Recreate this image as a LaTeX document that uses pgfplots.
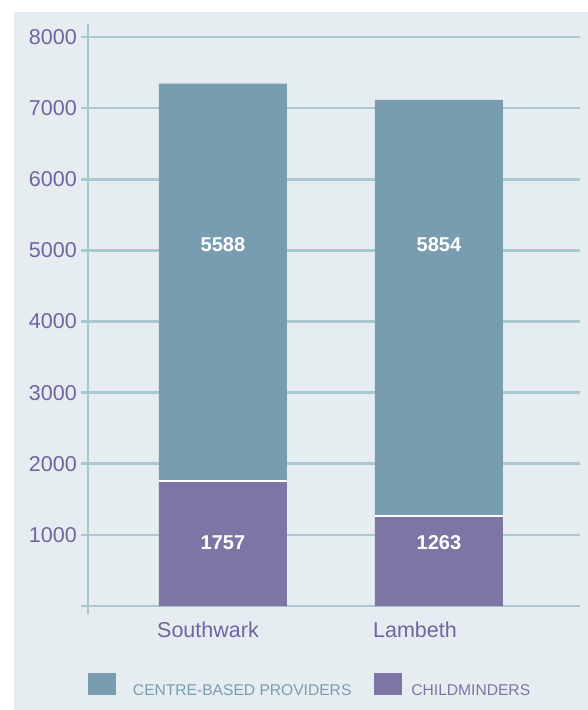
\documentclass[border=0pt]{standalone}
\usepackage{fontspec}
\setmainfont{Liberation Sans}
\usepackage{pgfplots}
\usepackage{pgfplotstable}
\pgfplotsset{compat=1.18}
\definecolor{bgc}{HTML}{E5EDF1}
\definecolor{gridc}{HTML}{A9C8D0}
\definecolor{cblue}{HTML}{799DB0}
\definecolor{cpurp}{HTML}{7D76A5}
\definecolor{tpurp}{HTML}{7064A2}

\pgfplotstableread{
x childminders centre
0 1757 5588
1 1263 5854
}\barsdata

\pgfplotstableread{
x y label
0 5080 5588
1 5080 5854
0 886 1757
1 886 1263
}\labeldata

\begin{document}
\begin{tikzpicture}[x=1pt,y=1pt]
\fill[white] (0,0) rectangle (588,-710);
\fill[bgc] (14,-12) rectangle (588,-710);
\begin{axis}[
  at={(88pt,-606pt)}, anchor=south west,
  scale only axis, width=492pt, height=569pt,
  xmin=-0.625, xmax=1.653, ymin=0, ymax=8000,
  ybar stacked, bar width=128pt,
  axis lines*=left,
  separate axis lines,
  axis line style={-, draw=gridc, line width=2.6pt},
  x axis line style={draw=none},
  y axis line style={shorten <=-8pt, shorten >=-13pt},
  xtick={0,1}, xticklabels={Southwark,Lambeth},
  xtick style={draw=none},
  ytick={0,1000,...,8000},
  yticklabels={,1000,2000,3000,4000,5000,6000,7000,8000},
  ytick style={draw=gridc, line width=2.6pt},
  tick align=outside, major tick length=7pt,
  ymajorgrids, major grid style={draw=gridc, line width=2.6pt},
  /pgf/number format/assume math mode=true,
  yticklabel style={anchor=east, inner xsep=4pt, font=\fontsize{21.5}{24}\selectfont, text=tpurp},
  xticklabel style={anchor=base west, inner xsep=0pt, xshift=-66pt, yshift=-24pt, font=\fontsize{21.5}{24}\selectfont, text=tpurp},
  clip=false,
]
\addplot[fill=cpurp, draw=none] table[x=x, y=childminders] {\barsdata};
\addplot[fill=cblue, draw=none] table[x=x, y=centre] {\barsdata};
\end{axis}
\begin{axis}[
  at={(88pt,-606pt)}, anchor=south west,
  scale only axis, width=492pt, height=569pt,
  xmin=-0.625, xmax=1.653, ymin=0, ymax=8000,
  hide axis, clip=false,
  legend columns=2,
  legend image code/.code={\fill[#1] (0pt,-5pt) rectangle (28pt,17pt);},
  legend style={draw=none, fill=none, inner sep=0pt, outer sep=0pt,
    at={(axis description cs:0,-0.1388)}, anchor=west,
    nodes={inner sep=0pt, font=\fontsize{15.6}{18}\selectfont},
    /tikz/column 1/.append style={column sep=17pt},
    /tikz/column 2/.append style={column sep=23pt},
    /tikz/column 3/.append style={column sep=9pt}},
]
% white separator at the top of the childminders segment
\addplot[forget plot, only marks, mark=-, mark size=64pt,
  mark options={draw=white, line width=2.2pt}]
  table[x=x, y=childminders] {\barsdata};
\addplot[forget plot, only marks, mark=none, point meta=explicit symbolic,
  nodes near coords,
  nodes near coords style={anchor=center, text=white, font=\fontsize{20}{24}\selectfont\bfseries}]
  table[x=x, y=y, meta=label] {\labeldata};
\addlegendimage{fill=cblue, draw=none}
\addlegendentry{\textcolor{cblue}{CENTRE-BASED PROVIDERS}}
\addlegendimage{fill=cpurp, draw=none}
\addlegendentry{\textcolor{cpurp}{CHILDMINDERS}}
\end{axis}
\pgfresetboundingbox
\useasboundingbox (0,0) rectangle (588,-710);
\end{tikzpicture}
\end{document}
